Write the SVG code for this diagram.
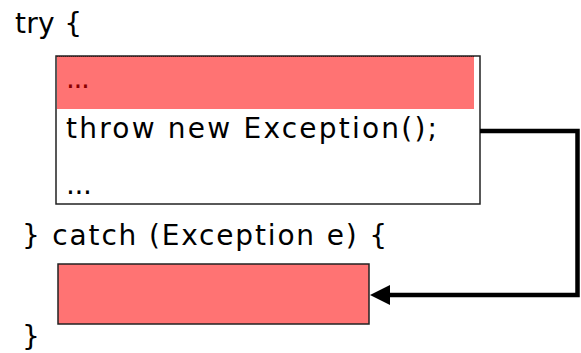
<svg xmlns="http://www.w3.org/2000/svg" width="581" height="353" viewBox="0 0 581 353">
<defs>
<style>
.t{font-family:"DejaVu Sans","Liberation Sans",sans-serif;font-size:28px;fill:#000}
.hot{fill:#ff7373}
.frame{fill:none;stroke:#222;stroke-width:1.5}
.conn{fill:none;stroke:#000;stroke-width:4.5}
</style>
</defs>
<rect width="581" height="353" fill="#fff"/>
<g id="try-label"><text class="t" x="15" y="33" textLength="67" lengthAdjust="spacing">try {</text></g>
<g id="try-block">
<rect x="56" y="56" width="424" height="148" fill="#fff"/>
<rect class="hot" x="57" y="56" width="417" height="53"/>
<line x1="57" y1="56.5" x2="474" y2="56.5" stroke="#a00000" stroke-width="1" stroke-dasharray="1 1"/>
<rect class="frame" x="56" y="56" width="424" height="148"/>
<text x="66" y="88" font-family="DejaVu Sans,sans-serif" font-size="28" fill="#8b0000" textLength="24" lengthAdjust="spacing">...</text>
<text class="t" x="66" y="138" textLength="371" lengthAdjust="spacing">throw new Exception();</text>
<text class="t" x="66" y="194" textLength="26" lengthAdjust="spacing">...</text>
</g>
<g id="catch-label"><text class="t" x="22" y="245" textLength="365" lengthAdjust="spacing">} catch (Exception e) {</text></g>
<g id="catch-block">
<rect class="hot" x="58" y="264" width="311" height="60" stroke="#222" stroke-width="1.5"/>
</g>
<g id="close-brace"><text class="t" x="22" y="346">}</text></g>
<g id="connectors">
<path class="conn" d="M480,131 H577.5 V295 H390"/>
<polygon points="370,295 390,285 390,305" fill="#000"/>
</g>
</svg>
